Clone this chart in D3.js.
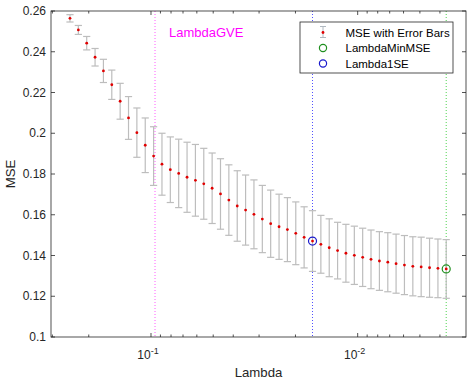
<!DOCTYPE html>
<html>
<head>
<meta charset="utf-8">
<script src="https://cdn.jsdelivr.net/npm/d3@7"></script>
<style>
  body { margin: 0; background: #fff; }
  svg { display: block; font-family: "Liberation Sans", Arial, sans-serif; }
</style>
</head>
<body>
<svg id="chart" width="472" height="381"></svg>
<script>
// Lambda values (descending, log-spaced)
const lambdas = [0.24655, 0.22462, 0.20464, 0.18644, 0.16986, 0.15475, 0.14098, 0.12844,
  0.11702, 0.10661, 0.09713, 0.08849, 0.08062, 0.07345, 0.06691, 0.06096, 0.05554, 0.05060,
  0.04610, 0.04200, 0.03826, 0.03486, 0.03176, 0.02893, 0.02636, 0.02401, 0.02188, 0.01993,
  0.01816, 0.01654, 0.01507, 0.01373, 0.01251, 0.01140, 0.01038, 0.00946, 0.00862, 0.00785,
  0.00715, 0.00652, 0.00594, 0.00541, 0.00493, 0.00449, 0.00409, 0.00373];

// cross-validated MSE at each lambda
const mse = [0.2564, 0.2507, 0.2442, 0.2373, 0.2306, 0.2238, 0.2157, 0.2075,
  0.2003, 0.1941, 0.1888, 0.1848, 0.1821, 0.1803, 0.1784, 0.1769, 0.1752, 0.1730,
  0.1702, 0.1672, 0.1643, 0.1623, 0.1602, 0.1579, 0.1556, 0.1541, 0.1527, 0.1509,
  0.1489, 0.1471, 0.1455, 0.1438, 0.1424, 0.1411, 0.1401, 0.1391, 0.1381, 0.1373,
  0.1367, 0.1360, 0.1353, 0.1347, 0.1344, 0.1340, 0.1337, 0.1334];

// standard error of MSE
const se = [0.0018, 0.0022, 0.0033, 0.0043, 0.0057, 0.0072, 0.0088, 0.0105,
  0.0121, 0.0134, 0.0144, 0.0152, 0.0161, 0.0168, 0.0172, 0.0176, 0.0174, 0.0173,
  0.0173, 0.0173, 0.0173, 0.0172, 0.0169, 0.0165, 0.0165, 0.0160, 0.0157, 0.0154,
  0.0150, 0.0149, 0.0142, 0.0142, 0.0139, 0.0142, 0.0143, 0.0143, 0.0144, 0.0144,
  0.0145, 0.0145, 0.0145, 0.0145, 0.0146, 0.0145, 0.0144, 0.0144];

const lambdaGVE = 0.0956;
const lambdaMinMSE = 0.00373;
const lambda1SE = 0.01654;
const yTicks = [0.1, 0.12, 0.14, 0.16, 0.18, 0.2, 0.22, 0.24, 0.26];
const xMajorTicks = [0.1, 0.01];
const xMinorTicks = [0.3, 0.2, 0.09, 0.08, 0.07, 0.06, 0.05, 0.04, 0.03, 0.02,
  0.009, 0.008, 0.007, 0.006, 0.005, 0.004];
const legendLabels = ["MSE with Error Bars", "LambdaMinMSE", "Lambda1SE"];

const margin = { top: 11, right: 6, bottom: 44, left: 51 };
const W = 472, H = 381;
const w = W - margin.left - margin.right, h = H - margin.top - margin.bottom;
const axisColor = "#262626";

const svg = d3.select("#chart");
const g = svg.append("g").attr("transform", `translate(${margin.left},${margin.top})`);

// reversed log axis, as in lassoPlot
const x = d3.scaleLog().domain([0.3046, 0.002992]).range([0, w]);
const y = d3.scaleLinear().domain([0.1, 0.26]).range([h, 0]);

const data = lambdas.map((l, i) => ({ l, m: mse[i], s: se[i] }));

// vertical reference lines
const refLines = [
  { v: lambdaGVE, c: "#ff40ff" },
  { v: lambda1SE, c: "#3333ff" },
  { v: lambdaMinMSE, c: "#33cc33" }
];
g.selectAll("line.ref").data(refLines).join("line")
  .attr("class", "ref")
  .attr("x1", d => x(d.v)).attr("x2", d => x(d.v))
  .attr("y1", 0).attr("y2", h)
  .attr("stroke", d => d.c).attr("stroke-width", 1)
  .attr("stroke-dasharray", "1,2").attr("opacity", 0.85);

// error bars
const bars = g.append("g").attr("stroke", "#bdbdbd").attr("stroke-width", 1.2);
const cap = 3.6;
data.forEach(d => {
  const cx = x(d.l), y1 = y(d.m + d.s), y2 = y(d.m - d.s);
  bars.append("line").attr("x1", cx).attr("x2", cx).attr("y1", y1).attr("y2", y2);
  bars.append("line").attr("x1", cx - cap).attr("x2", cx + cap).attr("y1", y1).attr("y2", y1);
  bars.append("line").attr("x1", cx - cap).attr("x2", cx + cap).attr("y1", y2).attr("y2", y2);
});

// points
g.selectAll("circle.pt").data(data).join("circle")
  .attr("class", "pt")
  .attr("cx", d => x(d.l)).attr("cy", d => y(d.m))
  .attr("r", 1.4).attr("fill", "#e00000");

// selected lambda circles
const idxMin = lambdas.indexOf(lambdaMinMSE);
const idx1SE = lambdas.indexOf(lambda1SE);
g.append("circle").attr("cx", x(lambdaMinMSE)).attr("cy", y(mse[idxMin])).attr("r", 4)
  .attr("fill", "none").attr("stroke", "#1f8f1f").attr("stroke-width", 1.2);
g.append("circle").attr("cx", x(lambda1SE)).attr("cy", y(mse[idx1SE])).attr("r", 4)
  .attr("fill", "none").attr("stroke", "#1a1acc").attr("stroke-width", 1.2);

// LambdaGVE label
g.append("text").attr("x", x(lambdaGVE) + 14).attr("y", 26)
  .attr("fill", "#ff00ff").attr("font-size", 13).text("LambdaGVE");

// box
g.append("rect").attr("width", w).attr("height", h)
  .attr("fill", "none").attr("stroke", axisColor).attr("stroke-width", 0.8);

// y ticks, left and right, inward
const yt = g.append("g").attr("stroke", axisColor).attr("stroke-width", 0.8);
yTicks.forEach(t => {
  yt.append("line").attr("x1", 0).attr("x2", 4).attr("y1", y(t)).attr("y2", y(t));
  yt.append("line").attr("x1", w).attr("x2", w - 4).attr("y1", y(t)).attr("y2", y(t));
});
g.selectAll("text.yl").data(yTicks).join("text")
  .attr("class", "yl")
  .attr("x", -5).attr("y", d => y(d) + 4)
  .attr("text-anchor", "end").attr("font-size", 12).attr("fill", axisColor)
  .text(d => String(+d.toFixed(2)));

// x ticks, bottom and top
const xt = g.append("g").attr("stroke", axisColor).attr("stroke-width", 0.8);
xMajorTicks.forEach(t => {
  xt.append("line").attr("x1", x(t)).attr("x2", x(t)).attr("y1", h).attr("y2", h - 4);
  xt.append("line").attr("x1", x(t)).attr("x2", x(t)).attr("y1", 0).attr("y2", 4);
});
xMinorTicks.forEach(t => {
  xt.append("line").attr("x1", x(t)).attr("x2", x(t)).attr("y1", h).attr("y2", h - 2.5);
  xt.append("line").attr("x1", x(t)).attr("x2", x(t)).attr("y1", 0).attr("y2", 2.5);
});
xMajorTicks.forEach(t => {
  const txt = g.append("text").attr("x", x(t) - 3).attr("y", h + 22)
    .attr("text-anchor", "middle").attr("font-size", 12).attr("fill", axisColor);
  txt.append("tspan").text("10");
  txt.append("tspan").attr("dy", -5).attr("font-size", 9)
    .text("-" + Math.round(-Math.log10(t)));
});

// axis labels
g.append("text").attr("x", w / 2).attr("y", h + 40)
  .attr("text-anchor", "middle").attr("font-size", 13.2).attr("fill", axisColor).text("Lambda");
g.append("text").attr("transform", `translate(${-36},${h / 2}) rotate(-90)`)
  .attr("text-anchor", "middle").attr("font-size", 13.2).attr("fill", axisColor).text("MSE");

// legend
const lg = svg.append("g").attr("transform", "translate(300,22)");
lg.append("rect").attr("width", 153).attr("height", 51)
  .attr("fill", "#fff").attr("stroke", axisColor).attr("stroke-width", 0.8);
const rows = [10.5, 26, 41.5];
const ix = 23;
// errorbar icon
const eb = lg.append("g").attr("stroke", "#b0b8c0").attr("stroke-width", 1);
eb.append("line").attr("x1", ix).attr("x2", ix).attr("y1", rows[0] - 6).attr("y2", rows[0] + 5);
eb.append("line").attr("x1", ix - 3).attr("x2", ix + 3).attr("y1", rows[0] - 6).attr("y2", rows[0] - 6);
eb.append("line").attr("x1", ix - 3).attr("x2", ix + 3).attr("y1", rows[0] + 5).attr("y2", rows[0] + 5);
lg.append("circle").attr("cx", ix).attr("cy", rows[0]).attr("r", 1.4).attr("fill", "#e00000");
lg.append("circle").attr("cx", ix).attr("cy", rows[1]).attr("r", 3.6)
  .attr("fill", "none").attr("stroke", "#1f8f1f").attr("stroke-width", 1.2);
lg.append("circle").attr("cx", ix).attr("cy", rows[2]).attr("r", 3.6)
  .attr("fill", "none").attr("stroke", "#1a1acc").attr("stroke-width", 1.2);
lg.selectAll("text").data(legendLabels).join("text")
  .attr("x", 45.5).attr("y", (d, i) => rows[i] + 4)
  .attr("font-size", 11.5).attr("fill", "#000").text(d => d);
</script>
</body>
</html>
